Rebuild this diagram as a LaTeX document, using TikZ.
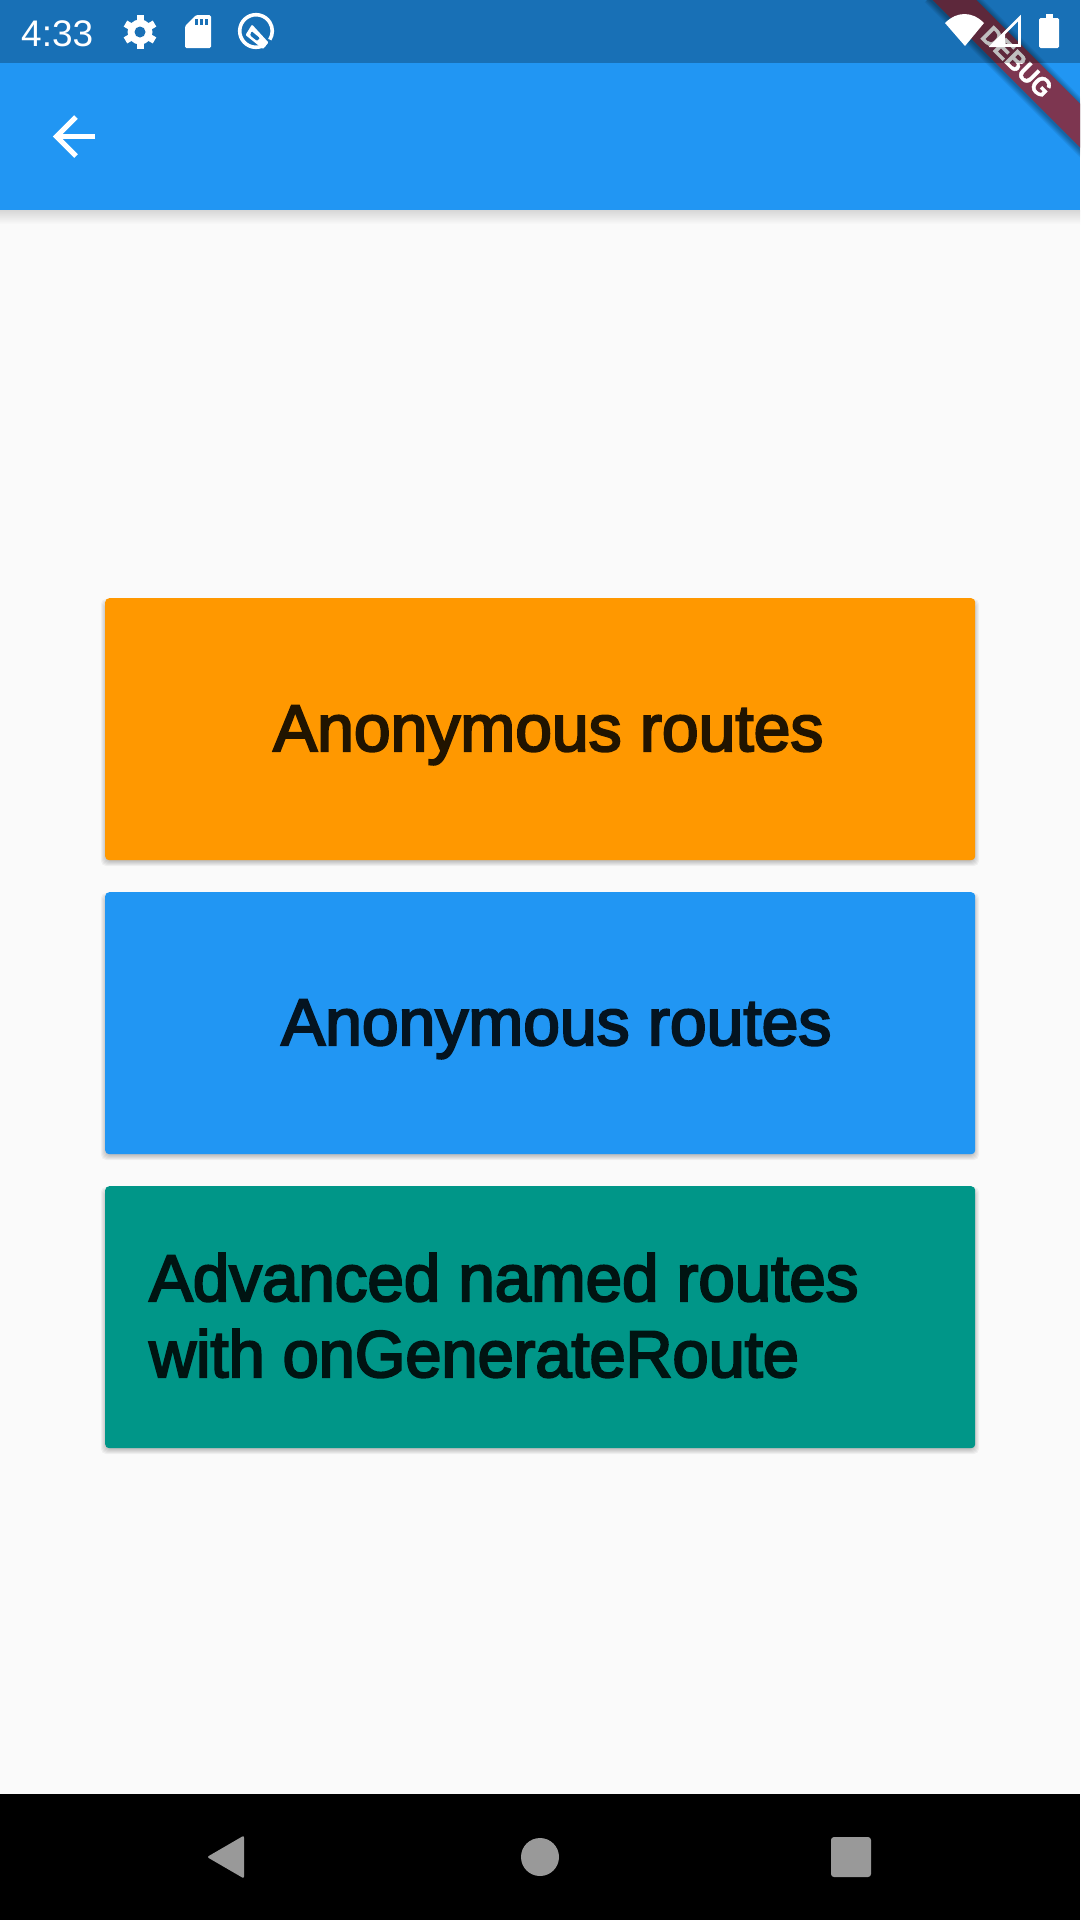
\documentclass[tikz,border=0pt]{standalone}
\usepackage{fontspec}
\setmainfont{Liberation Sans}
\newfontface\medfont[FakeBold=3.2]{Liberation Sans}
\newfontface\dbgfont[FakeBold=1.5]{Liberation Sans Bold}
\definecolor{pagebg}{HTML}{FAFAFA}
\definecolor{appblue}{HTML}{2196F3}
\definecolor{statusblue}{HTML}{1970B6}
\definecolor{btnorange}{HTML}{FF9800}
\definecolor{btnteal}{HTML}{009688}
\definecolor{txtorange}{HTML}{211400}
\definecolor{txtblue}{HTML}{041420}
\definecolor{txtteal}{HTML}{001412}
\definecolor{navgrey}{HTML}{999999}
\definecolor{bannerred}{HTML}{7D3650}
\tikzset{
  cardbtn/.style={anchor=north west,inner sep=0pt,minimum width=870pt,minimum height=262pt,rounded corners=4pt},
  btnlabel/.style={anchor=base west,inner sep=0pt,font=\medfont\fontsize{66}{76}\selectfont},
  statusicon/.style={fill=white,draw=none},
}
\newcommand{\cardshadow}[2]{%
  \foreach \k in {0,1,2,3,4,5}{
    \fill[black,opacity=0.045,rounded corners=5pt] (#1+1-\k,#2+6-\k) rectangle (#1+869+\k,#2+262+1+\k);
  }}
\begin{document}
\begin{tikzpicture}[x=1pt,y=-1pt]
\useasboundingbox (0,0) rectangle (1080,1920);
\fill[pagebg] (0,0) rectangle (1080,1920);
% app bar with shadow
\shade[top color=black!14!pagebg,bottom color=pagebg] (0,210) rectangle (1080,224);
\fill[appblue] (0,0) rectangle (1080,210);
% cards
\cardshadow{105}{598}
\cardshadow{105}{892}
\cardshadow{105}{1186}
\node[cardbtn,fill=btnorange] (btnA) at (105,598) {};
\node[cardbtn,fill=appblue] (btnB) at (105,892) {};
\node[cardbtn,fill=btnteal] (btnC) at (105,1186) {};
\node[btnlabel,text=txtorange] (labA) at (273,751) {Anonymous routes};
\node[btnlabel,text=txtblue] (labB) at (281,1045) {Anonymous routes};
\node[btnlabel,text=txtteal] (labC1) at (149,1301) {\scalebox{0.9916}[1]{Advanced named routes}};
\node[btnlabel,text=txtteal] (labC2) at (149,1377) {\scalebox{0.984}[1]{with onGenerateRoute}};
% back arrow
\draw[white,line width=5pt] (95,136) -- (56,136);
\draw[white,line width=5pt] (76,117) -- (56.5,136.5) -- (76,156);
% debug banner
\begin{scope}
\clip (0,0) rectangle (1080,1920);
\foreach \w in {33,35,37,39,41,43}{
  \draw[black,opacity=0.06,line width=\w pt] (940,-13) -- (1100,147);
}
\draw[bannerred,line width=31pt] (940,-14.5) -- (1100,145.5);
\node[font=\dbgfont\fontsize{27}{27}\selectfont,text=white,rotate=-45,inner sep=0pt] (dbg) at (1017,62) {\scalebox{0.9}[1]{DEBUG}};
% status bar overlay
\fill[black,opacity=0.25] (0,0) rectangle (1080,63);
\end{scope}
% status bar content
\node[anchor=base west,inner sep=0pt,text=white,font=\fontsize{37}{37}\selectfont] (clock) at (21,46) {4:33};
% gear
\fill[statusicon] (140,32) circle (12.5);
\foreach \a in {30,90,...,330}{
  \draw[white,line width=7pt] (140,32) -- ++(\a:-16.8);
}
\fill[statusblue] (140,32) circle (5.5);
% sd card
\fill[statusicon,rounded corners=1.5pt] (185,48) -- (185,26) -- (196,15) -- (211,15) -- (211,48) -- cycle;
\foreach \sx in {195,200,205}{
  \fill[statusblue] (\sx,18.5) rectangle ++(3.2,6.5);
}
% Q icon
\draw[white,line width=3.6pt] (256,31) ++(58:16.3) arc[start angle=58,end angle=392,radius=16.3];
\fill[white,even odd rule,rounded corners=1pt] (252,24.5) -- (245.5,35) -- (263,49) -- (268.5,42.5) -- cycle
  (251.5,31) -- (250,35.5) -- (257,41) -- (260,38) -- cycle;
% wifi
\fill[statusicon] (945,23) .. controls (957,11) and (972,11) .. (984,23) -- (965,46) -- cycle;
% signal
\draw[white,line width=2.6pt,line join=miter] (1019.5,18) -- (1019.5,45.5) -- (992,45.5) -- cycle;
\fill[white] (989,47) -- (1005,31) -- (1005,47) -- cycle;
% battery
\fill[statusicon,rounded corners=1.5pt] (1039,18) rectangle (1059,48);
\fill[statusicon] (1046,14) rectangle (1053,19);
% nav bar
\fill[black] (0,1794) rectangle (1080,1920);
\fill[navgrey,rounded corners=2pt] (244,1835.5) -- (207,1857) -- (244,1878.5) -- cycle;
\fill[navgrey] (540,1857) circle (19);
\fill[navgrey,rounded corners=3pt] (831,1837) rectangle (871,1877);
\end{tikzpicture}
\end{document}
